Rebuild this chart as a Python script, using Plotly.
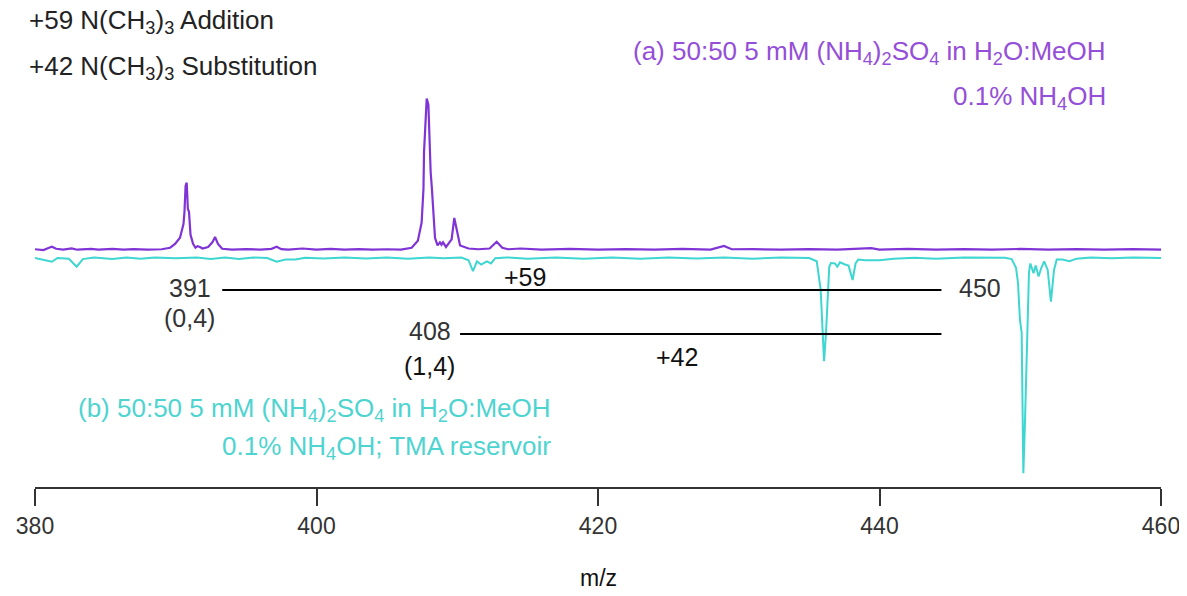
import plotly.graph_objects as go

# ---------------- data ----------------
# (a) spectrum, purple, relative intensity (tallest peak ~100)
purple_mz = [380.0, 380.6, 381.0, 381.2, 381.5, 382.0, 382.6, 383.0, 384.0, 384.5,
             385.5, 386.3, 387.0, 388.0, 389.0, 389.6, 389.95, 390.3, 390.55, 390.62,
             390.7, 390.78, 390.86, 390.94, 391.05, 391.23, 391.4, 391.55, 391.72, 391.9,
             392.3, 392.6, 392.79, 393.0, 393.3, 394.0, 395.0, 396.0, 396.8, 397.17,
             397.5, 398.0, 399.0, 400.0, 401.0, 402.0, 403.0, 404.0, 405.0, 406.0,
             406.76, 407.2, 407.47, 407.6, 407.64, 407.75, 407.83, 407.95, 408.05, 408.11,
             408.2, 408.3, 408.42, 408.6, 408.77, 408.88, 408.99, 409.2, 409.6, 409.79,
             409.95, 410.2, 410.8, 411.5, 412.3, 412.8, 413.2, 413.6, 414.5, 416.0,
             418.0, 420.0, 422.0, 424.0, 426.0, 428.0, 428.95, 429.5, 431.0, 433.0,
             435.0, 437.0, 439.4, 440.0, 442.0, 444.0, 446.0, 448.0, 450.0, 452.0,
             454.0, 456.0, 458.0, 460.0]
purple_int = [0.5, 0.0, 1.5, 2.2, 0.8, 0.3, 1.0, 0.2, 0.8, 0.3,
              0.7, 0.2, 0.6, 0.2, 0.5, 1.5, 4.0, 8.0, 17.0, 25.0,
              42.0, 44.0, 27.0, 25.0, 10.0, 4.0, 1.5, 2.5, 2.0, 1.0,
              2.0, 5.0, 8.5, 4.0, 0.8, 0.2, 0.6, 0.3, 0.8, 2.2,
              0.6, 0.2, 1.0, 0.3, 0.7, 0.2, 0.6, 0.2, 0.5, 0.3,
              1.5, 6.0, 18.0, 40.0, 64.0, 90.0, 99.0, 95.0, 60.0, 51.0,
              40.0, 21.0, 8.0, 3.0, 5.0, 3.5, 5.0, 2.0, 7.0, 21.0,
              14.0, 3.0, 1.0, 0.5, 1.0, 5.4, 1.5, 0.5, 1.0, 0.3,
              0.8, 0.3, 0.6, 0.2, 0.7, 0.3, 2.7, 0.5, 0.6, 0.2,
              0.6, 0.3, 1.2, 0.3, 0.7, 0.2, 0.6, 0.3, 0.7, 0.2,
              0.6, 0.3, 0.6, 0.3]

# (b) spectrum, cyan, plotted downward (tallest peak ~ -100)
cyan_mz = [380.0, 380.8, 381.2, 381.6, 382.4, 382.96, 383.4, 384.2, 385.5, 386.5,
           387.5, 388.5, 390.0, 391.5, 392.5, 393.5, 394.5, 395.5, 396.5, 397.17,
           397.8, 398.5, 399.2, 400.5, 402.0, 403.5, 405.0, 406.5, 408.0, 409.0,
           410.3, 410.8, 411.12, 411.4, 411.7, 412.1, 412.4, 412.7, 413.5, 415.0,
           417.0, 419.0, 421.0, 423.0, 425.0, 427.0, 429.0, 431.0, 433.0, 435.0,
           435.54, 435.82, 435.96, 436.06, 436.2, 436.29, 436.43, 436.55, 436.84, 437.0,
           437.19, 437.55, 437.8, 438.09, 438.3, 438.49, 439.0, 440.0, 441.0, 442.5,
           444.0, 446.0, 448.0, 448.9, 449.39, 449.7, 449.84, 449.98, 450.1, 450.22,
           450.34, 450.41, 450.48, 450.62, 450.72, 450.94, 451.1, 451.3, 451.5, 451.7,
           451.95, 452.18, 452.4, 452.59, 453.0, 453.5, 454.0, 455.0, 456.5, 458.0,
           460.0]
cyan_int = [-0.5, -1.5, -2.2, -0.5, -0.8, -4.5, -1.0, -0.3, -1.0, -0.3,
            -0.8, -0.2, -0.6, -0.3, -0.9, -0.3, -1.0, -0.3, -0.5, -2.2,
            -1.2, -1.2, -0.4, -0.7, -0.2, -0.7, -0.3, -0.8, -0.3, -0.6,
            -0.3, -1.5, -6.5, -2.0, -3.5, -2.0, -3.0, -0.6, -0.2, -0.8,
            -0.3, -0.8, -0.2, -0.8, -0.3, -0.7, -0.2, -0.8, -0.3, -0.5,
            -2.0, -15.0, -38.0, -48.0, -35.0, -20.0, -4.5, -2.8, -3.0, -4.5,
            -2.5, -3.5, -4.0, -10.6, -3.0, -1.2, -1.5, -1.5, -0.8, -0.4,
            -0.8, -0.3, -0.6, -0.4, -1.0, -5.0, -12.0, -29.0, -35.0, -99.7,
            -75.0, -58.0, -30.0, -7.0, -3.0, -7.5, -4.0, -9.0, -5.0, -2.0,
            -6.0, -20.6, -6.0, -1.2, -1.2, -2.0, -0.8, -0.3, -0.6, -0.3,
            -0.5]

# connector lines (+59 / +42), in m/z and (b)-axis intensity units
link_start_mz = [393.3, 410.2]
link_end_mz = [444.4, 444.4]
link_level = [-15.2, -35.5]

x_ticks = [380, 400, 420, 440, 460]

PURPLE = "rgb(128,52,214)"
PURPLE_TXT = "rgb(148,78,216)"
CYAN = "rgb(62,214,208)"
CYAN_TXT = "rgb(78,212,208)"
FONT = "Liberation Sans, Arial, sans-serif"
NARROW = "Liberation Sans Narrow, Arial Narrow, Liberation Sans, Arial, sans-serif"

fig = go.Figure()
fig.add_trace(go.Scatter(x=cyan_mz, y=cyan_int, mode="lines", yaxis="y2",
                         line=dict(color=CYAN, width=2), hoverinfo="skip", showlegend=False))
fig.add_trace(go.Scatter(x=purple_mz, y=purple_int, mode="lines", yaxis="y",
                         line=dict(color=PURPLE, width=2.2), hoverinfo="skip", showlegend=False))

for xs, xe, lv in zip(link_start_mz, link_end_mz, link_level):
    fig.add_shape(type="line", xref="x", yref="y2", x0=xs, x1=xe, y0=lv, y1=lv,
                  line=dict(color="black", width=2))

# page offset of 8 px (browser body margin)
OFF = 8.0
PLOT_H = 487.0 - OFF


def py(p):
    return 1 - (p - OFF) / PLOT_H


ann = []
# top-left legend text
ann.append(dict(text="+59 N(CH<sub>3</sub>)<sub>3</sub> Addition", xref="paper", yref="paper",
                x=-0.0075, y=py(22), xanchor="left", yanchor="middle",
                font=dict(size=26, color="#222", family=FONT)))
ann.append(dict(text="+42 N(CH<sub>3</sub>)<sub>3</sub> Substitution", xref="paper", yref="paper",
                x=-0.0075, y=py(67), xanchor="left", yanchor="middle",
                font=dict(size=26, color="#222", family=FONT)))
# (a) label
ann.append(dict(text="(a) 50:50 5 mM (NH<sub>4</sub>)<sub>2</sub>SO<sub>4</sub> in H<sub>2</sub>O:MeOH",
                xref="x", yref="paper", x=456.23, y=py(52), xanchor="right", yanchor="middle",
                font=dict(size=26, color=PURPLE_TXT, family=FONT)))
ann.append(dict(text="0.1% NH<sub>4</sub>OH",
                xref="x", yref="paper", x=456.23, y=py(97), xanchor="right", yanchor="middle",
                font=dict(size=26, color=PURPLE_TXT, family=FONT)))
# (b) label
ann.append(dict(text="(b) 50:50 5 mM (NH<sub>4</sub>)<sub>2</sub>SO<sub>4</sub> in H<sub>2</sub>O:MeOH",
                xref="x", yref="y2", x=416.8, y=-70.5, xanchor="right", yanchor="middle",
                font=dict(size=26, color=CYAN_TXT, family=FONT)))
ann.append(dict(text="0.1% NH<sub>4</sub>OH; TMA reservoir",
                xref="x", yref="y2", x=416.8, y=-88.0, xanchor="right", yanchor="middle",
                font=dict(size=26, color=CYAN_TXT, family=FONT)))
# peak labels
for txt, xv, yv, col in [("391", 391.0, -14.3, "#333"), ("(0,4)", 391.0, -28.1, "#333"),
                         ("408", 408.06, -34.1, "#333"), ("(1,4)", 408.06, -50.2, "#111"),
                         ("+59", 414.81, -9.2, "#111"), ("+42", 425.61, -46.1, "#111"),
                         ("450", 447.14, -14.3, "#333")]:
    ann.append(dict(text=txt, xref="x", yref="y2", x=xv, y=yv, xanchor="center", yanchor="middle",
                    font=dict(size=25, color=col, family=FONT)))
# axis title
ann.append(dict(text="m/z", xref="paper", yref="paper", x=0.5, y=py(578),
                xanchor="center", yanchor="middle", font=dict(size=23, color="#111", family=FONT)))
for a in ann:
    a["showarrow"] = False

fig.update_layout(
    width=1187 - 16, height=596 - 16,
    margin=dict(l=35 - 8, r=18, t=0, b=101),
    paper_bgcolor="white", plot_bgcolor="white",
    showlegend=False,
    annotations=ann,
    xaxis=dict(range=[380, 460], tickvals=x_ticks, ticktext=[str(v) for v in x_ticks],
               showgrid=False, zeroline=False, showline=True, linecolor="#333", linewidth=2,
               ticks="outside", ticklen=17, tickwidth=1.5, tickcolor="#333", automargin=False,
               ticklabeloverflow="allow",
               tickfont=dict(size=23, color="#333", family=NARROW), ticklabelstandoff=0),
    yaxis=dict(range=[-154.9, 158.2], visible=False, fixedrange=True),
    yaxis2=dict(range=[-106.0, 114.7], overlaying="y", visible=False, fixedrange=True),
)

fig.write_html("out.html")
